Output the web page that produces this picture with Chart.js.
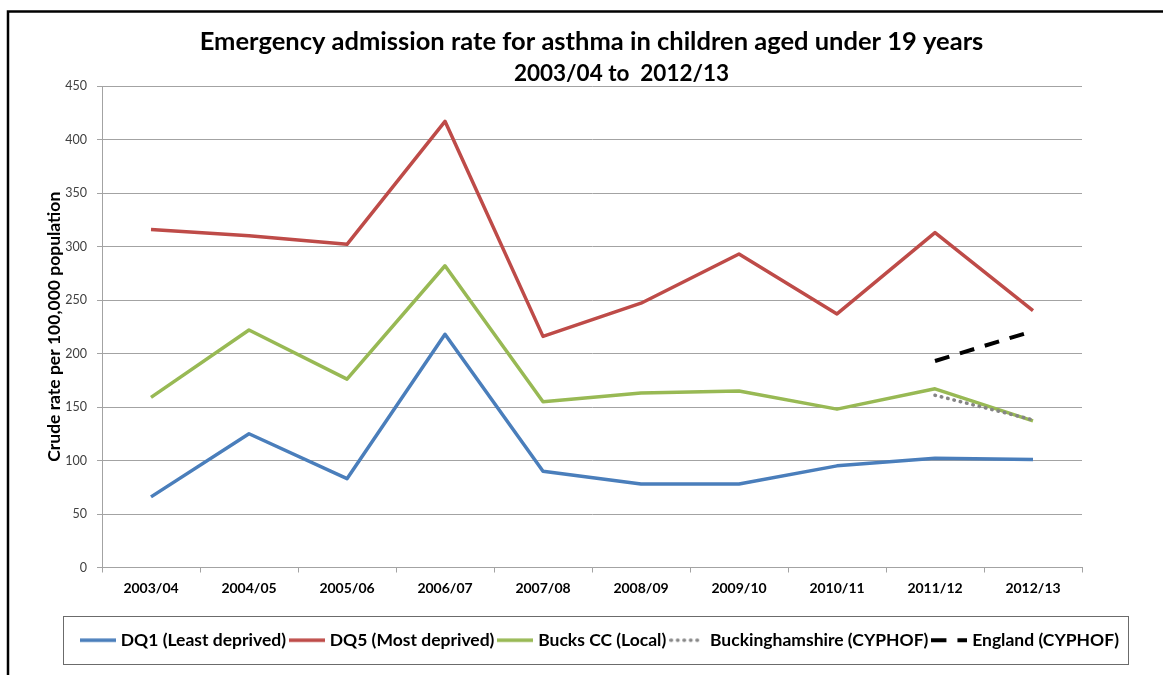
<!DOCTYPE html>
<html>
<head>
<meta charset="utf-8">
<script src="https://cdn.jsdelivr.net/npm/chart.js@4.4.0/dist/chart.umd.min.js"></script>
<style>
    html, body { margin: 0; padding: 0; background: #ffffff; }
    #chartBox { width: 1163px; height: 675px; }
</style>
</head>
<body>
<div id="chartBox"><canvas id="asthmaChart"></canvas></div>
<script>
const YEARS = ["2003/04", "2004/05", "2005/06", "2006/07", "2007/08", "2008/09", "2009/10", "2010/11", "2011/12", "2012/13"];

const DQ1_RATES = [66, 125, 83, 218, 90, 78, 78, 95, 102, 101];
const DQ5_RATES = [316, 310, 302, 417, 216, 247, 293, 237, 313, 240];
const BUCKS_CC_RATES = [159, 222, 176, 282, 155, 163, 165, 148, 167, 137];
const BUCKS_CYPHOF_RATES = [null, null, null, null, null, null, null, null, 161, 138];
const ENGLAND_CYPHOF_RATES = [null, null, null, null, null, null, null, null, 193, 221];

const TITLE_LINE_1 = "Emergency admission rate for asthma in children aged under 19 years";
const TITLE_LINE_2 = "2003/04 to  2012/13";
const Y_AXIS_TITLE = "Crude rate per 100,000 population";

const Y_TICK_STEP = 50;
const Y_MAX = 450;

const FONT_FAMILY = "Lato, 'Open Sans', sans-serif";
const GRID_COLOR = "#a3a3a3";
const LEGEND_SHIFT = 10;
const SUBTITLE_SHIFT = 30;
const SAMPLE_WIDTH = 36;


function lineSeries(label, values, color, extra) {
    return Object.assign({
        label: label,
        data: values,
        borderColor: color,
        backgroundColor: color,
        borderWidth: 3.5,
        borderJoinStyle: "round",
        borderCapStyle: "butt",
        pointRadius: 0,
        pointHoverRadius: 0,
        tension: 0,
        fill: false,
        spanGaps: false,
    }, extra || {});
}


// small line swatch for the legend, drawn with the dataset's own dash pattern
function legendSample(dataset) {
    const sample = document.createElement("canvas");
    sample.width = SAMPLE_WIDTH;
    sample.height = 8;
    const g = sample.getContext("2d");
    const inset = dataset.borderCapStyle === "round" ? dataset.borderWidth / 2 : 0;
    g.strokeStyle = dataset.borderColor;
    g.lineWidth = dataset.borderWidth;
    g.lineCap = dataset.borderCapStyle || "butt";
    g.setLineDash(dataset.borderDash || []);
    g.beginPath();
    g.moveTo(inset, 4);
    g.lineTo(SAMPLE_WIDTH - inset, 4);
    g.stroke();
    return sample;
}


// outer frame + legend box; also nudges legend and second title line to where the original has them
const framePlugin = {
    id: "frame",
    afterLayout(chart) {
        chart.legend.left += LEGEND_SHIFT;
        chart.legend.right += LEGEND_SHIFT;
        chart.boxes.forEach((box) => {
            if (box !== chart.titleBlock && box.options && box.options.text === TITLE_LINE_2) {
                box.left += SUBTITLE_SHIFT;
                box.right += SUBTITLE_SHIFT;
            }
        });
    },
    afterDraw(chart) {
        const ctx = chart.ctx;
        ctx.save();
        ctx.strokeStyle = "#000000";
        ctx.lineWidth = 2.5;
        ctx.beginPath();
        ctx.moveTo(8, chart.height);
        ctx.lineTo(8, 11.5);
        ctx.lineTo(chart.width, 11.5);
        ctx.stroke();

        ctx.strokeStyle = "#6b6b6b";
        ctx.lineWidth = 1;
        ctx.strokeRect(63.5, 616.5, 1065, 48);
        ctx.restore();
    }
};


const ctx = document.getElementById("asthmaChart").getContext("2d");
const asthmaChart = new Chart(ctx, {
    type: "line",
    data: {
        labels: YEARS,
        datasets: [
            lineSeries("DQ1 (Least deprived)", DQ1_RATES, "#4a7ebb"),
            lineSeries("DQ5 (Most deprived)", DQ5_RATES, "#be4b48"),
            lineSeries("Bucks CC (Local)", BUCKS_CC_RATES, "#98b954"),
            lineSeries("Buckinghamshire (CYPHOF)", BUCKS_CYPHOF_RATES, "#858585", {
                borderWidth: 3.5,
                borderDash: [0.5, 6],
                borderCapStyle: "round",
                order: -1,
            }),
            lineSeries("England (CYPHOF)", ENGLAND_CYPHOF_RATES, "#000000", {
                borderWidth: 4,
                borderDash: [15, 11],
                order: -2,
            }),
        ],
    },
    options: {
        responsive: true,
        maintainAspectRatio: false,
        devicePixelRatio: 1,
        animation: false,
        layout: {
            padding: { left: 20, right: 0, top: 12, bottom: 16 },
        },
        plugins: {
            title: {
                display: true,
                text: TITLE_LINE_1,
                color: "#000000",
                font: { family: FONT_FAMILY, size: 25.5, weight: "bold", lineHeight: 1.25 },
                padding: { top: 14, bottom: 0 },
            },
            subtitle: {
                display: true,
                text: TITLE_LINE_2,
                color: "#000000",
                font: { family: FONT_FAMILY, size: 22.5, weight: "bold", lineHeight: 1.25 },
                padding: { top: 2, bottom: -2 },
            },
            legend: {
                display: true,
                position: "bottom",
                labels: {
                    usePointStyle: true,
                    pointStyleWidth: 28,
                    padding: 7,
                    color: "#000000",
                    font: { family: FONT_FAMILY, size: 17.5, weight: "bold" },
                    sort: (a, b) => a.datasetIndex - b.datasetIndex,
                    generateLabels(chart) {
                        const items = Chart.defaults.plugins.legend.labels.generateLabels(chart);
                        items.forEach((item) => {
                            item.pointStyle = legendSample(chart.data.datasets[item.datasetIndex]);
                        });
                        return items;
                    },
                },
            },
            tooltip: { enabled: false },
        },
        scales: {
            x: {
                offset: true,
                grid: {
                    offset: true,
                    drawOnChartArea: false,
                    drawTicks: true,
                    tickLength: 5,
                    color: GRID_COLOR,
                },
                border: { display: true, color: GRID_COLOR, width: 1 },
                ticks: {
                    color: "#000000",
                    padding: 8,
                    maxRotation: 0,
                    autoSkip: false,
                    font: { family: FONT_FAMILY, size: 14, weight: "bold" },
                },
                afterFit(scale) {
                    scale.height = 57;
                },
            },
            y: {
                min: 0,
                max: Y_MAX,
                ticks: {
                    stepSize: Y_TICK_STEP,
                    color: "#404040",
                    padding: 10,
                    font: { family: FONT_FAMILY, size: 12.5 },
                },
                grid: {
                    color: GRID_COLOR,
                    lineWidth: 1,
                    drawTicks: true,
                    tickLength: 5,
                },
                border: { display: true, color: GRID_COLOR, width: 1 },
                title: {
                    display: true,
                    text: Y_AXIS_TITLE,
                    color: "#000000",
                    font: { family: FONT_FAMILY, size: 17.5, weight: "bold" },
                    padding: { top: 24, bottom: 0 },
                },
                afterFit(scale) {
                    scale.width = 82;
                },
            },
            // empty right-hand box, keeps the plot area where it is and leaves the legend room
            spacer: {
                type: "linear",
                position: "right",
                display: true,
                grid: { display: false, drawTicks: false },
                border: { display: false },
                ticks: { display: false },
                afterFit(scale) {
                    scale.width = 81;
                },
            },
        },
    },
    plugins: [framePlugin],
});
</script>
</body>
</html>
